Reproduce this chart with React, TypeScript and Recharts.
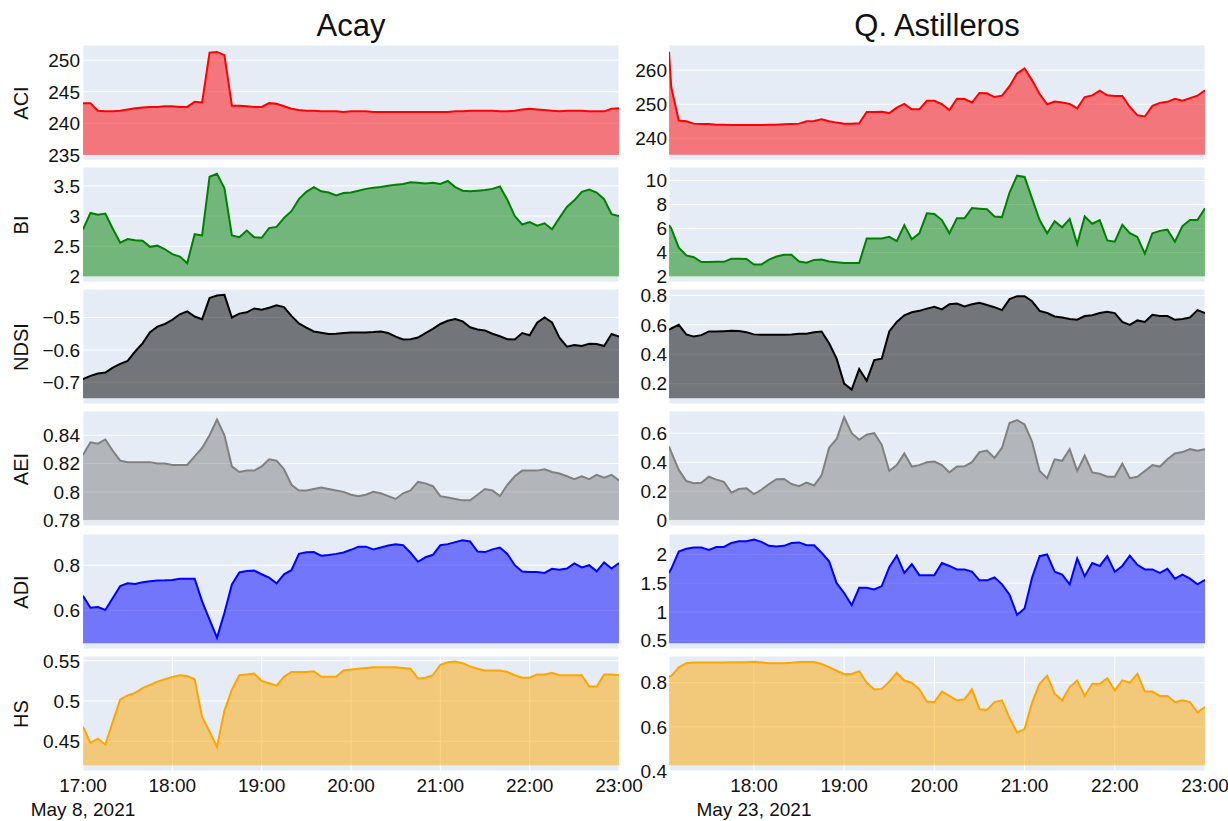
import React from "react";
import { Area, AreaChart, CartesianGrid, XAxis, YAxis } from "recharts";

// minutes after 17:00
const leftTimes = Array.from({ length: 73 }, (_, i) => i * 5);
const rightTimes = [3.5, ...Array.from({ length: 72 }, (_, i) => (i + 1) * 5)];

const hourTicksLeft = [0, 60, 120, 180, 240, 300, 360];
const hourTicksRight = [60, 120, 180, 240, 300, 360];

// Acay, May 8 2021
const acayAci = [
  243.2, 243.2, 242.0, 241.9, 241.9, 242.0, 242.2, 242.4, 242.5, 242.6,
  242.6, 242.7, 242.7, 242.6, 242.6, 243.4, 243.3, 251.2, 251.3, 250.8,
  242.8, 242.8, 242.7, 242.6, 242.6, 243.2, 243.1, 242.7, 242.3, 242.1,
  242.0, 242.0, 241.9, 241.9, 241.9, 241.8, 241.9, 241.9, 241.9, 241.8,
  241.8, 241.8, 241.8, 241.8, 241.8, 241.8, 241.8, 241.8, 241.8, 241.8,
  241.9, 241.9, 242.0, 242.0, 242.0, 242.0, 241.9, 241.9, 242.0, 242.2,
  242.3, 242.2, 242.1, 242.0, 241.9, 242.0, 242.0, 242.0, 241.9, 241.9,
  241.9, 242.3, 242.4,
];
const acayBi = [
  2.78, 3.05, 3.02, 3.04, 2.79, 2.56, 2.62, 2.60, 2.59, 2.49,
  2.51, 2.45, 2.37, 2.33, 2.22, 2.70, 2.68, 3.65, 3.70, 3.46,
  2.68, 2.65, 2.76, 2.65, 2.64, 2.80, 2.82, 2.97, 3.08, 3.28,
  3.40, 3.48, 3.41, 3.39, 3.34, 3.38, 3.39, 3.42, 3.45, 3.47,
  3.48, 3.50, 3.52, 3.53, 3.56, 3.55, 3.54, 3.55, 3.53, 3.58,
  3.48, 3.42, 3.41, 3.42, 3.43, 3.45, 3.49, 3.27, 3.00, 2.86,
  2.90, 2.84, 2.88, 2.78, 2.97, 3.15, 3.26, 3.40, 3.44, 3.39,
  3.28, 3.03, 3.00,
];
const acayNdsi = [
  -0.690, -0.680, -0.673, -0.670, -0.655, -0.643, -0.634, -0.605, -0.580, -0.545,
  -0.528, -0.520, -0.507, -0.490, -0.481, -0.497, -0.505, -0.440, -0.432, -0.430,
  -0.500, -0.488, -0.484, -0.472, -0.476, -0.470, -0.462, -0.468, -0.495, -0.518,
  -0.531, -0.543, -0.547, -0.551, -0.550, -0.548, -0.546, -0.546, -0.546, -0.545,
  -0.543, -0.548, -0.559, -0.568, -0.567, -0.562, -0.548, -0.535, -0.520, -0.510,
  -0.505, -0.512, -0.530, -0.537, -0.540, -0.550, -0.558, -0.567, -0.568, -0.548,
  -0.555, -0.516, -0.500, -0.515, -0.562, -0.590, -0.585, -0.588, -0.581, -0.582,
  -0.588, -0.551, -0.559,
];
const acayAei = [
  0.826, 0.835, 0.834, 0.837, 0.829, 0.822, 0.821, 0.821, 0.821, 0.821,
  0.820, 0.820, 0.819, 0.819, 0.819, 0.825, 0.831, 0.840, 0.851, 0.840,
  0.818, 0.814, 0.815, 0.815, 0.818, 0.823, 0.822, 0.816, 0.805, 0.801,
  0.801, 0.802, 0.803, 0.802, 0.801, 0.800, 0.798, 0.797, 0.798, 0.800,
  0.799, 0.797, 0.795, 0.799, 0.801, 0.807, 0.806, 0.804, 0.797, 0.796,
  0.795, 0.794, 0.794, 0.798, 0.802, 0.801, 0.797, 0.805, 0.811, 0.815,
  0.815, 0.815, 0.816, 0.814, 0.813, 0.811, 0.809, 0.811, 0.809, 0.812,
  0.810, 0.812, 0.808,
];
const acayAdi = [
  0.665, 0.612, 0.615, 0.602, 0.655, 0.708, 0.720, 0.717, 0.725, 0.729,
  0.732, 0.733, 0.735, 0.740, 0.740, 0.740, 0.640, 0.560, 0.480, 0.590,
  0.715, 0.768, 0.774, 0.776, 0.760, 0.745, 0.720, 0.760, 0.778, 0.850,
  0.857, 0.858, 0.842, 0.845, 0.850, 0.856, 0.868, 0.882, 0.882, 0.870,
  0.878, 0.887, 0.892, 0.888, 0.855, 0.815, 0.835, 0.846, 0.888, 0.893,
  0.902, 0.910, 0.905, 0.860, 0.858, 0.870, 0.878, 0.850, 0.800, 0.772,
  0.770, 0.770, 0.766, 0.784, 0.780, 0.785, 0.808, 0.790, 0.800, 0.773,
  0.812, 0.785, 0.810,
];
const acayHs = [
  0.468, 0.448, 0.453, 0.446, 0.474, 0.502, 0.507, 0.510, 0.516, 0.520,
  0.524, 0.527, 0.530, 0.532, 0.531, 0.527, 0.480, 0.462, 0.443, 0.488,
  0.514, 0.532, 0.533, 0.534, 0.525, 0.522, 0.519, 0.530, 0.536, 0.536,
  0.536, 0.537, 0.530, 0.530, 0.530, 0.538, 0.539, 0.540, 0.541, 0.542,
  0.542, 0.542, 0.542, 0.541, 0.540, 0.528, 0.529, 0.532, 0.545, 0.548,
  0.549, 0.547, 0.543, 0.540, 0.538, 0.538, 0.538, 0.536, 0.532, 0.529,
  0.529, 0.533, 0.533, 0.535, 0.532, 0.532, 0.532, 0.532, 0.518, 0.518,
  0.533, 0.533, 0.532,
];

// Q. Astilleros, May 23 2021
const astAci = [
  265.4, 255.0, 245.2, 245.0, 244.3, 244.2, 244.2, 244.0, 244.0, 243.9,
  243.9, 243.9, 243.9, 243.9, 244.0, 244.0, 244.1, 244.2, 244.3, 245.0,
  245.1, 245.6, 245.0, 244.6, 244.3, 244.3, 244.4, 247.7, 247.7, 247.8,
  247.4, 249.0, 250.1, 248.5, 248.5, 251.0, 251.0, 250.0, 248.3, 251.6,
  251.5, 250.5, 253.3, 253.2, 252.1, 252.5, 255.3, 259.0, 260.5, 257.0,
  253.0, 250.0, 250.8, 250.5, 250.1, 248.8, 252.1, 252.6, 254.0, 252.6,
  252.4, 252.4, 249.2, 246.8, 246.4, 249.5, 250.4, 250.7, 251.6, 251.0,
  251.8, 252.5, 254.1,
];
const astBi = [
  6.28, 6.00, 4.40, 3.76, 3.60, 3.20, 3.20, 3.22, 3.22, 3.48,
  3.48, 3.46, 3.00, 3.00, 3.40, 3.66, 3.80, 3.80, 3.25, 3.15,
  3.38, 3.42, 3.25, 3.18, 3.12, 3.12, 3.12, 5.16, 5.16, 5.16,
  5.30, 4.95, 6.28, 5.10, 5.60, 7.26, 7.20, 6.70, 5.60, 6.85,
  6.85, 7.70, 7.65, 7.60, 7.00, 6.95, 9.00, 10.40, 10.30, 8.50,
  6.70, 5.60, 6.60, 6.10, 6.80, 4.70, 7.00, 6.40, 6.70, 5.00,
  4.90, 6.30, 5.60, 5.30, 3.90, 5.60, 5.80, 5.90, 4.90, 6.20,
  6.70, 6.70, 7.68,
];
const astNdsi = [
  0.566, 0.575, 0.600, 0.535, 0.520, 0.530, 0.555, 0.555, 0.557, 0.560,
  0.558, 0.550, 0.535, 0.532, 0.532, 0.532, 0.532, 0.534, 0.540, 0.540,
  0.550, 0.555, 0.475, 0.370, 0.200, 0.160, 0.300, 0.220, 0.360, 0.370,
  0.555, 0.620, 0.665, 0.685, 0.695, 0.710, 0.722, 0.705, 0.740, 0.745,
  0.725, 0.740, 0.750, 0.735, 0.720, 0.700, 0.775, 0.795, 0.795, 0.760,
  0.695, 0.680, 0.657, 0.650, 0.640, 0.635, 0.660, 0.665, 0.680, 0.688,
  0.680, 0.620, 0.600, 0.630, 0.620, 0.668, 0.660, 0.660, 0.634, 0.640,
  0.650, 0.700, 0.680,
];
const astAei = [
  0.510, 0.470, 0.347, 0.270, 0.255, 0.258, 0.300, 0.280, 0.265, 0.190,
  0.215, 0.220, 0.180, 0.210, 0.250, 0.283, 0.285, 0.250, 0.235, 0.260,
  0.240, 0.310, 0.500, 0.560, 0.710, 0.600, 0.555, 0.590, 0.600, 0.520,
  0.340, 0.380, 0.460, 0.370, 0.380, 0.400, 0.405, 0.380, 0.330, 0.370,
  0.372, 0.400, 0.470, 0.480, 0.430, 0.500, 0.670, 0.690, 0.660, 0.540,
  0.340, 0.290, 0.420, 0.410, 0.490, 0.340, 0.445, 0.330, 0.320, 0.300,
  0.300, 0.390, 0.290, 0.300, 0.340, 0.380, 0.370, 0.420, 0.460, 0.470,
  0.490, 0.480, 0.490,
];
const astAdi = [
  1.68, 1.75, 2.05, 2.10, 2.12, 2.12, 2.08, 2.13, 2.13, 2.20,
  2.23, 2.23, 2.26, 2.22, 2.15, 2.14, 2.15, 2.20, 2.21, 2.16,
  2.16, 2.03, 1.88, 1.50, 1.33, 1.12, 1.42, 1.42, 1.39, 1.45,
  1.78, 1.98, 1.68, 1.83, 1.64, 1.64, 1.64, 1.85, 1.80, 1.74,
  1.74, 1.70, 1.55, 1.55, 1.60, 1.48, 1.30, 0.95, 1.06, 1.60,
  1.97, 2.00, 1.70, 1.65, 1.48, 1.93, 1.62, 1.85, 1.80, 1.97,
  1.70, 1.80, 1.98, 1.82, 1.74, 1.74, 1.68, 1.75, 1.58, 1.65,
  1.58, 1.48, 1.56,
];
const astHs = [
  0.828, 0.830, 0.870, 0.888, 0.891, 0.892, 0.892, 0.892, 0.892, 0.893,
  0.893, 0.893, 0.895, 0.892, 0.888, 0.888, 0.888, 0.890, 0.894, 0.894,
  0.894, 0.885, 0.870, 0.855, 0.840, 0.840, 0.852, 0.800, 0.769, 0.772,
  0.805, 0.845, 0.810, 0.800, 0.770, 0.715, 0.712, 0.760, 0.740, 0.720,
  0.725, 0.770, 0.680, 0.677, 0.712, 0.720, 0.640, 0.575, 0.590, 0.710,
  0.795, 0.831, 0.750, 0.720, 0.780, 0.810, 0.740, 0.795, 0.795, 0.820,
  0.765, 0.810, 0.800, 0.840, 0.760, 0.760, 0.740, 0.740, 0.712, 0.720,
  0.712, 0.666, 0.690,
];

const indexNames = ["ACI", "BI", "NDSI", "AEI", "ADI", "HS"];
const indexColors = ["#ff0000", "#008000", "#000000", "#808080", "#0000ff", "#ffa500"];

const acayTicks = [
  [235, 240, 245, 250],
  [2, 2.5, 3, 3.5],
  [-0.7, -0.6, -0.5],
  [0.78, 0.8, 0.82, 0.84],
  [0.6, 0.8],
  [0.45, 0.5, 0.55],
];
const acayRanges: [number, number][] = [
  [234.2, 252.4],
  [1.908, 3.812],
  [-0.767, -0.412],
  [0.7759, 0.8571],
  [0.4298, 0.9378],
  [0.413, 0.5559],
];
const acayBase = [235, 2, -0.7495, 0.78, 0.4547, 0.42];

const astTicks = [
  [240, 250, 260],
  [2, 4, 6, 8, 10],
  [0.2, 0.4, 0.6, 0.8],
  [0, 0.2, 0.4, 0.6],
  [0.5, 1, 1.5, 2],
  [0.4, 0.6, 0.8],
];
const astRanges: [number, number][] = [
  [233.62, 267.39],
  [1.538, 11.125],
  [0.0616, 0.8436],
  [-0.0396, 0.753],
  [0.355, 2.356],
  [0.4, 0.921],
];
const astBase = [235.18, 2, 0.1005, 0, 0.453, 0.426];

const keys = ["aci", "bi", "ndsi", "aei", "adi", "hs"];
const acaySeries = [acayAci, acayBi, acayNdsi, acayAei, acayAdi, acayHs];
const astSeries = [astAci, astBi, astNdsi, astAei, astAdi, astHs];

const acayRows = leftTimes.map((t, i) => {
  const row: Record<string, number> = { t };
  keys.forEach((k, s) => (row[k] = acaySeries[s][i]));
  return row;
});
const astRows = rightTimes.map((t, i) => {
  const row: Record<string, number> = { t };
  keys.forEach((k, s) => (row[k] = astSeries[s][i]));
  return row;
});

const FONT = '"Liberation Sans", Arial, sans-serif';
const INK = "#111";
const ROW_TOPS = [45, 167, 289, 411, 534, 656];
const PANEL_H = 115;
const AXIS_H = 56;

const clock = (m: number) => `${17 + Math.round(m / 60)}:00`;
const num = (v: number) => String(v).replace("-", "\u2212");

function TimeTick(props: any) {
  const { x, y, payload, first, date } = props;
  return (
    <text x={x} y={y} textAnchor="middle" fill={INK} fontSize={19} fontFamily={FONT}>
      <tspan x={x} dy="0.71em">{clock(payload.value)}</tspan>
      {payload.value === first ? (
        <tspan x={x} dy="1.22em">{date}</tspan>
      ) : null}
    </text>
  );
}

interface ColumnProps {
  rows: Record<string, number>[];
  ticks: number[][];
  ranges: [number, number][];
  bases: number[];
  xDomain: [number, number];
  xTicks: number[];
  left: number;
  width: number;
  yWidth: number;
  rightPad: number;
  tickGap: number;
  date: string;
}

function Column(p: ColumnProps) {
  return (
    <>
      {keys.map((k, r) => {
        const bottom = r === keys.length - 1;
        return (
          <div key={k} style={{ position: "absolute", left: p.left, top: ROW_TOPS[r] }}>
            <AreaChart
              width={p.width}
              height={PANEL_H + (bottom ? AXIS_H : 0)}
              data={p.rows}
              margin={{ top: 0, right: p.rightPad, bottom: 0, left: 0 }}
            >
              <CartesianGrid stroke="#ffffff" fill="#E5ECF6" />
              <XAxis
                dataKey="t"
                type="number"
                domain={p.xDomain}
                ticks={p.xTicks}
                interval={0}
                allowDataOverflow
                height={bottom ? AXIS_H : 0}
                axisLine={false}
                tickLine={false}
                tick={bottom ? <TimeTick first={p.xTicks[0]} date={p.date} /> : false}
              />
              <YAxis
                type="number"
                domain={p.ranges[r]}
                ticks={p.ticks[r]}
                interval={0}
                allowDataOverflow
                width={p.yWidth}
                axisLine={false}
                tickLine={false}
                tickSize={0}
                tickMargin={p.tickGap}
                tickFormatter={num}
                tick={{ fill: INK, fontSize: 19, fontFamily: FONT }}
              />
              <Area
                type="linear"
                dataKey={k}
                stroke={indexColors[r]}
                strokeWidth={2}
                fill={indexColors[r]}
                fillOpacity={0.5}
                baseValue={p.bases[r]}
                dot={false}
                activeDot={false}
                isAnimationActive={false}
              />
            </AreaChart>
          </div>
        );
      })}
    </>
  );
}

export default function App() {
  return (
    <div
      style={{
        position: "absolute",
        left: 0,
        top: 0,
        width: 1228,
        height: 821,
        background: "#ffffff",
        fontFamily: FONT,
        color: INK,
        overflow: "hidden",
      }}
    >
      <style>{".recharts-surface { overflow: visible; }"}</style>
      <div style={{ position: "absolute", left: 83, top: 10, width: 536, textAlign: "center", fontSize: 31, lineHeight: "31px" }}>
        Acay
      </div>
      <div style={{ position: "absolute", left: 669, top: 10, width: 536, textAlign: "center", fontSize: 31, lineHeight: "31px" }}>
        Q. Astilleros
      </div>
      {indexNames.map((name, r) => (
        <div
          key={name}
          style={{
            position: "absolute",
            left: 21 - 50,
            top: ROW_TOPS[r] + PANEL_H / 2 - 12,
            width: 100,
            height: 24,
            lineHeight: "24px",
            textAlign: "center",
            fontSize: 20,
            transform: "rotate(-90deg)",
          }}
        >
          {name}
        </div>
      ))}
      <Column
        rows={acayRows}
        ticks={acayTicks}
        ranges={acayRanges}
        bases={acayBase}
        xDomain={[0, 360]}
        xTicks={hourTicksLeft}
        left={0}
        width={660}
        yWidth={83}
        rightPad={41}
        tickGap={3}
        date="May 8, 2021"
      />
      <Column
        rows={astRows}
        ticks={astTicks}
        ranges={astRanges}
        bases={astBase}
        xDomain={[3.5, 360]}
        xTicks={hourTicksRight}
        left={620}
        width={608}
        yWidth={49}
        rightPad={23}
        tickGap={2}
        date="May 23, 2021"
      />
    </div>
  );
}
